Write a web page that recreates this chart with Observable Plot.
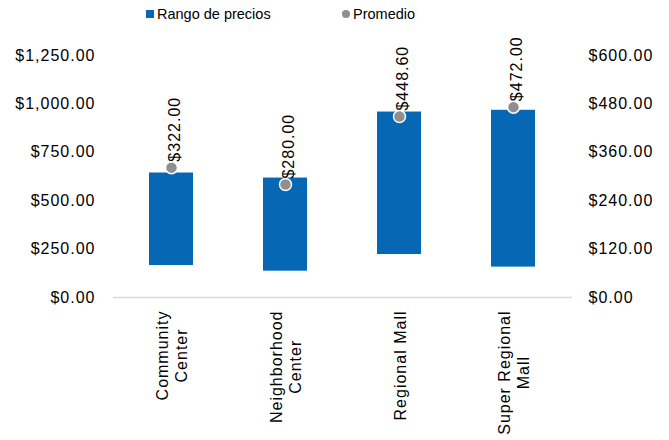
<!DOCTYPE html>
<html>
<head>
<meta charset="utf-8">
<script src="https://cdn.jsdelivr.net/npm/d3@7"></script>
<script src="https://cdn.jsdelivr.net/npm/@observablehq/plot@0.6"></script>
<style>
  body { margin: 0; background: #fff; font-family: "Liberation Sans", Arial, sans-serif; }
  #legend { position: relative; height: 28px; width: 669px; font-size: 14.5px; color: #000; }
  #legend .item { position: absolute; top: 5px; line-height: 18px; white-space: nowrap; }
  #legend .sw { display: inline-block; vertical-align: middle; margin-right: 3px; position: relative; top: -1px; }
  #chart svg text { letter-spacing: 1px; }
</style>
</head>
<body>
<div id="legend">
  <span class="item" style="left:146px"><span class="sw" style="width:8px;height:8px;background:#0668B4"></span>Rango de precios</span>
  <span class="item" style="left:342px"><span class="sw" style="width:8px;height:8px;border-radius:50%;background:#8F8F8F"></span>Promedio</span>
</div>
<div id="chart"></div>
<script>
const categories = ["Community\nCenter", "Neighborhood\nCenter", "Regional Mall", "Super Regional\nMall"];
const minPrice = [165, 136, 222, 157];
const maxPrice = [643, 617, 958, 967];
const avgPrice = [322, 280, 448.6, 472];
const leftTicks = [0, 250, 500, 750, 1000, 1250];
const rightTicks = [0, 120, 240, 360, 480, 600];

const k = 1250 / 600; // right axis -> left axis units
const fmt = d3.format("$,.2f");
const rows = categories.map((c, i) => ({cat: c, lo: minPrice[i], hi: maxPrice[i], avg: avgPrice[i]}));

const chart = Plot.plot({
  width: 669,
  height: 412,
  marginLeft: 113,
  marginRight: 97,
  marginTop: 27,
  marginBottom: 143,
  style: {fontFamily: '"Liberation Sans", Arial, sans-serif', fontSize: "16px", color: "#000", background: "#fff"},
  x: {domain: categories, paddingInner: 0.61, paddingOuter: 0.305, align: 0.5, axis: null},
  y: {domain: [0, 1250], axis: null},
  marks: [
    Plot.barY(rows, {x: "cat", y1: "lo", y2: "hi", fill: "#0668B4"}),
    Plot.ruleY([0], {stroke: "#D9D9D9", strokeWidth: 1.5}),
    Plot.axisY({anchor: "left", ticks: leftTicks, tickSize: 0, tickPadding: 18, tickFormat: fmt, fontSize: 16, label: null}),
    Plot.axisY({anchor: "right", ticks: rightTicks.map(v => v * k), tickSize: 0, tickPadding: 16, tickFormat: d => fmt(d / k), fontSize: 16, label: null}),
    Plot.dot(rows, {x: "cat", y: d => d.avg * k, r: 6, fill: "#8F8F8F", stroke: "#fff", strokeWidth: 1.5}),
    Plot.text(rows, {x: "cat", y: d => d.avg * k, text: d => fmt(d.avg), rotate: -90, textAnchor: "start", lineAnchor: "middle", dx: 3, dy: -6, fontSize: 16, fill: "#000"}),
    Plot.text(rows, {x: "cat", frameAnchor: "bottom", text: "cat", rotate: -90, textAnchor: "middle", lineAnchor: "middle", lineHeight: 1.2, fontSize: 16, fill: "#000"})
  ]
});
document.getElementById("chart").appendChild(chart);
// position x labels: top of longest line ~13px below the axis, lines centered on each other
const textGroups = chart.querySelectorAll("g[aria-label='text']");
const xLabelGroup = textGroups[textGroups.length - 1];
xLabelGroup.querySelectorAll("text").forEach(el => {
  const bb = el.getBBox(); // local (unrotated) box: width = longest line length
  const tr = el.getAttribute("transform") || "";
  el.setAttribute("transform", `translate(0,${13 + bb.width / 2}) ` + tr);
});
</script>
</body>
</html>
